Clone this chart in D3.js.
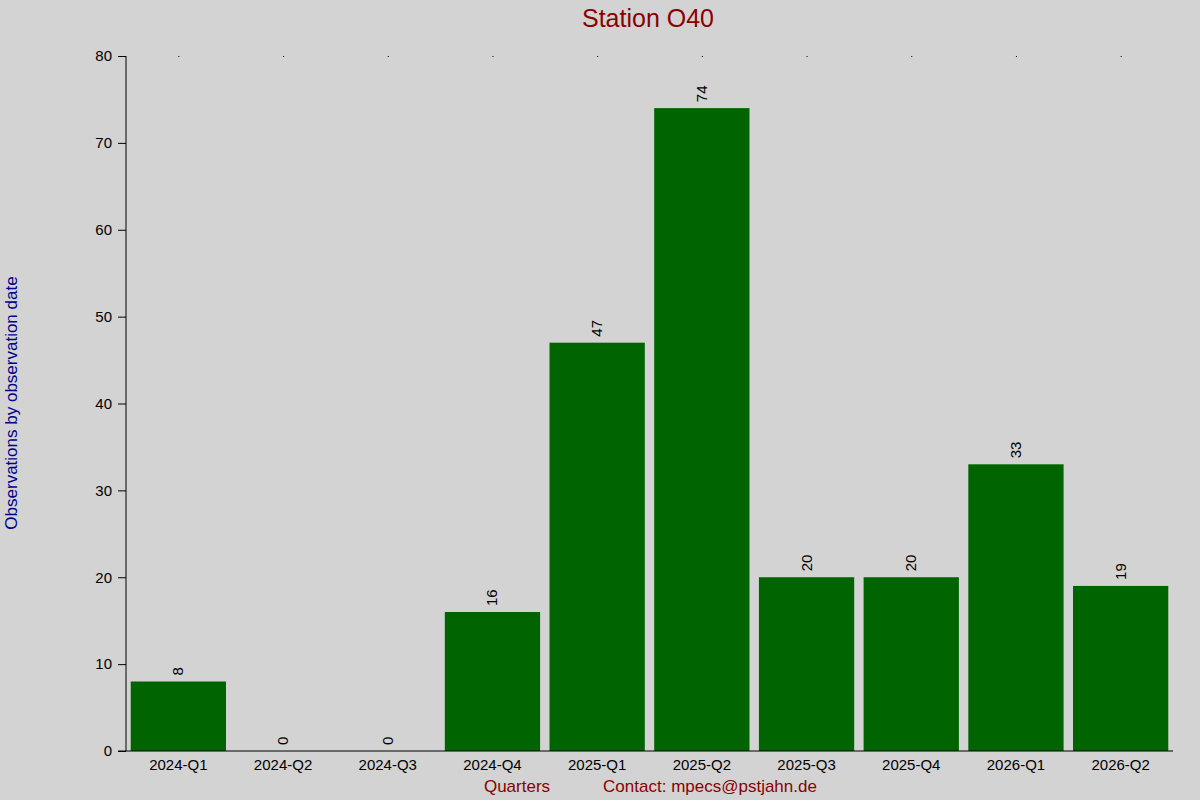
<!DOCTYPE html>
<html>
<head>
<meta charset="utf-8">
<script src="https://cdn.jsdelivr.net/npm/d3@7"></script>
<style>
body { margin: 0; background: #d3d3d3; }
text { font-family: "Liberation Sans", Arial, sans-serif; }
</style>
</head>
<body>
<script>
// data
var quarters = ["2024-Q1", "2024-Q2", "2024-Q3", "2024-Q4", "2025-Q1", "2025-Q2", "2025-Q3", "2025-Q4", "2026-Q1", "2026-Q2"];
var counts = [8, 0, 0, 16, 47, 74, 20, 20, 33, 19];
var yTicks = [0, 10, 20, 30, 40, 50, 60, 70, 80];

var width = 1200, height = 800;
var plotLeft = 126, plotRight = 1173, plotTop = 56, plotBottom = 751;

var svg = d3.select("body").append("svg")
	.attr("width", width)
	.attr("height", height)
	.style("background", "#d3d3d3");

var x = d3.scaleBand().domain(quarters).range([plotLeft, plotRight]).paddingInner(0.09).paddingOuter(0.045);
var y = d3.scaleLinear().domain([0, 80]).range([plotBottom, plotTop]);

svg.selectAll(".bar")
	.data(counts)
	.enter()
	.append("rect")
	.attr("class", "bar")
	.attr("x", function(d, i) { return x(quarters[i]); })
	.attr("y", function(d) { return y(d); })
	.attr("width", x.bandwidth())
	.attr("height", function(d) { return plotBottom - y(d); })
	.attr("fill", "#006400");

// value labels, rotated
svg.selectAll(".val")
	.data(counts)
	.enter()
	.append("text")
	.attr("transform", function(d, i) {
		return "translate(" + (x(quarters[i]) + x.bandwidth() / 2 + 5) + "," + (y(d) - 6) + ") rotate(-90)";
	})
	.attr("font-size", 15)
	.text(function(d) { return d; });

// top dots
svg.selectAll(".dot")
	.data(quarters)
	.enter()
	.append("rect")
	.attr("x", function(d) { return x(d) + x.bandwidth() / 2; })
	.attr("y", plotTop)
	.attr("width", 1).attr("height", 1)
	.attr("fill", "#000");

// y axis
var yAxis = svg.append("g")
	.attr("transform", "translate(" + plotLeft + ",0)")
	.call(d3.axisLeft(y).tickValues(yTicks).tickSize(8).tickPadding(6));
yAxis.select(".domain").attr("d", "M0," + plotTop + "V" + plotBottom).attr("stroke", "#000");
yAxis.selectAll("line").attr("stroke", "#000");
yAxis.selectAll("text").attr("font-size", 15).attr("fill", "#000");

// x axis
var xAxis = svg.append("g")
	.attr("transform", "translate(0," + plotBottom + ")")
	.call(d3.axisBottom(x).tickSize(0).tickPadding(8));
xAxis.select(".domain").attr("d", "M118,0H" + plotRight).attr("stroke", "#000");
xAxis.selectAll("text").attr("font-size", 15).attr("fill", "#000");

svg.append("text")
	.attr("x", 648).attr("y", 27)
	.attr("text-anchor", "middle")
	.attr("font-size", 25)
	.attr("fill", "#8b0000")
	.text("Station O40");

svg.append("text")
	.attr("transform", "translate(17,403) rotate(-90)")
	.attr("text-anchor", "middle")
	.attr("font-size", 17)
	.attr("fill", "#00008b")
	.text("Observations by observation date");

svg.append("text")
	.attr("x", 517).attr("y", 792)
	.attr("text-anchor", "middle")
	.attr("font-size", 17)
	.attr("fill", "#8b0000")
	.text("Quarters");

svg.append("text")
	.attr("x", 710).attr("y", 792)
	.attr("text-anchor", "middle")
	.attr("font-size", 17)
	.attr("fill", "#8b0000")
	.text("Contact: mpecs@pstjahn.de");
</script>
</body>
</html>
